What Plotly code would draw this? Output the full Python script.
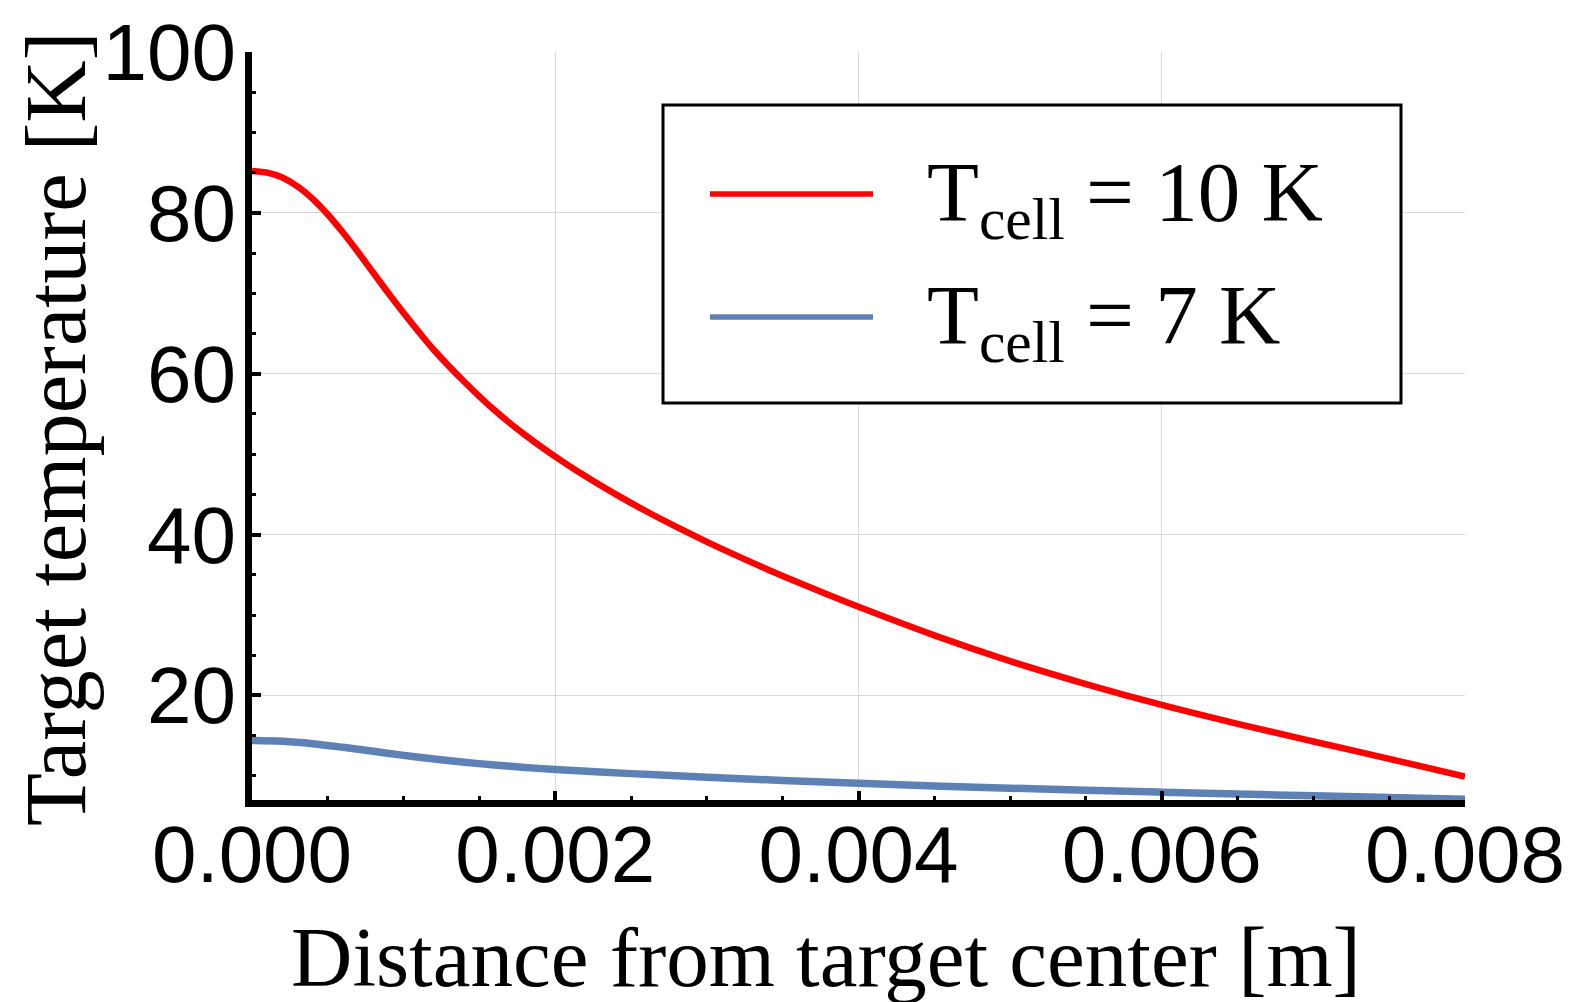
import plotly.graph_objects as go

# Radial temperature profiles across the target
distance_red = [0.0, 0.0001, 0.0002, 0.0003, 0.0004, 0.0005, 0.0006, 0.0007, 0.0008,
                0.0009, 0.0010, 0.0011, 0.0012, 0.0014, 0.0016, 0.0018, 0.0020,
                0.0022, 0.0024, 0.0026, 0.0028, 0.0030, 0.0032, 0.0034, 0.0036,
                0.0038, 0.0040, 0.0045, 0.0050, 0.0055, 0.0060, 0.0065, 0.0070,
                0.0075, 0.0080]
temp_red = [85.2, 85.0, 84.4, 83.3, 81.75, 79.8, 77.55, 75.1, 72.55,
            70.0, 67.55, 65.2, 62.95, 59.0, 55.45, 52.4, 49.7,
            47.25, 45.0, 42.9, 40.95, 39.1, 37.35, 35.67, 34.07,
            32.52, 31.02, 27.47, 24.27, 21.42, 18.82, 16.47, 14.27,
            12.12, 9.92]

distance_blue = [0.0, 0.0002, 0.0004, 0.0006, 0.0008, 0.0010, 0.0012, 0.0014, 0.0016,
                 0.0018, 0.0020, 0.0025, 0.0030, 0.0035, 0.0040, 0.0045, 0.0050,
                 0.0055, 0.0060, 0.0065, 0.0070, 0.0075, 0.0080]
temp_blue = [14.4, 14.3, 14.0, 13.55, 13.05, 12.55, 12.1, 11.7, 11.35,
             11.05, 10.8, 10.28, 9.83, 9.43, 9.07, 8.75, 8.47,
             8.21, 7.97, 7.74, 7.52, 7.31, 7.1]

series_names = ["T<sub>cell</sub> = 10 K", "T<sub>cell</sub> = 7 K"]
series_colors = ["#FF0000", "#5E81B5"]

x_ticks = [0.0, 0.002, 0.004, 0.006, 0.008]
x_tick_text = ["0.000", "0.002", "0.004", "0.006", "0.008"]
y_ticks = [20, 40, 60, 80, 100]
x_title = "Distance from target center [m]"
y_title = "Target temperature [K]"

W, H = 1573, 1002
L, R, T, B = 252, 108, 52, 202
pw, ph = W - L - R, H - T - B


def px(x):
    return (x - L) / pw


def py(y):
    return (H - B - y) / ph


fig = go.Figure()
fig.add_trace(go.Scatter(x=distance_red, y=temp_red, mode="lines",
                         line=dict(color=series_colors[0], width=6.5, shape="spline", smoothing=1),
                         name=series_names[0], showlegend=False))
fig.add_trace(go.Scatter(x=distance_blue, y=temp_blue, mode="lines",
                         line=dict(color=series_colors[1], width=7.5, shape="spline", smoothing=1),
                         name=series_names[1], showlegend=False))

sans = "Liberation Sans, Arial, sans-serif"
serif = "Liberation Serif, Times New Roman, serif"

axis_common = dict(showline=True, linecolor="black", linewidth=7,
                   ticks="inside", ticklen=9, tickwidth=4, tickcolor="black",
                   showgrid=True, gridcolor="#d9d9d9", gridwidth=1.3, zeroline=False,
                   automargin=False,
                   tickfont=dict(family=sans, size=80, color="black"))

fig.update_xaxes(range=[0, 0.008], tickvals=x_ticks, ticktext=x_tick_text,
                 minor=dict(dtick=0.0005, tick0=0, ticks="inside", ticklen=4, tickwidth=3,
                            tickcolor="black", showgrid=False),
                 ticklabelstandoff=-21, **axis_common)
fig.update_yaxes(range=[7, 100], tickvals=y_ticks,
                 minor=dict(dtick=5, tick0=0, ticks="inside", ticklen=4, tickwidth=3,
                            tickcolor="black", showgrid=False),
                 ticklabelstandoff=-7, **axis_common)

annotations = [
    dict(text=x_title, xref="paper", yref="paper", x=px(826), y=py(957),
         xanchor="center", yanchor="middle", showarrow=False,
         font=dict(family=serif, size=85, color="black")),
    dict(text=y_title, xref="paper", yref="paper", x=px(56), y=py(429), textangle=-90,
         xanchor="center", yanchor="middle", showarrow=False,
         font=dict(family=serif, size=86.5, color="black")),
]

# Legend box with sample lines and labels
shapes = [dict(type="rect", xref="paper", yref="paper",
               x0=px(663), x1=px(1401), y0=py(105), y1=py(403),
               line=dict(color="black", width=3), fillcolor="white", layer="above")]
for i, yrow in enumerate([194, 317]):
    shapes.append(dict(type="line", xref="paper", yref="paper",
                       x0=px(710), x1=px(873), y0=py(yrow), y1=py(yrow),
                       line=dict(color=series_colors[i], width=5.5), layer="above"))
    annotations.append(dict(text=series_names[i], xref="paper", yref="paper",
                            x=px(925), y=py(yrow + 4), xanchor="left", yanchor="middle",
                            showarrow=False, font=dict(family=serif, size=85, color="black")))

fig.update_layout(width=W, height=H, margin=dict(l=L, r=R, t=T, b=B),
                  paper_bgcolor="white", plot_bgcolor="white",
                  shapes=shapes, annotations=annotations, showlegend=False)

fig.write_html("out.html")
